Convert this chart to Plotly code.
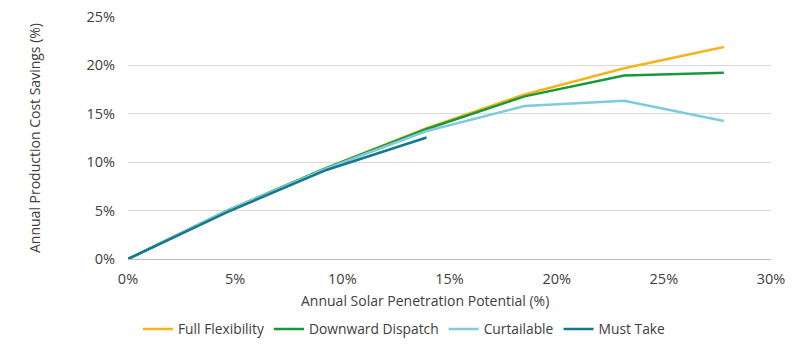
import plotly.graph_objects as go

penetration = [0.0, 4.63, 9.26, 13.9, 18.5, 23.15, 27.8]
full_flex = [0.0, 5.0, 9.4, 13.5, 17.0, 19.7, 21.9]
downward = [0.0, 5.0, 9.4, 13.4, 16.8, 18.95, 19.25]
curtailable = [0.0, 5.0, 9.35, 13.2, 15.8, 16.35, 14.25]
must_take_x = [0.0, 4.63, 9.26, 13.93]
must_take = [0.0, 4.85, 9.2, 12.55]

x_ticks = [0, 0.05, 0.10, 0.15, 0.20, 0.25, 0.30]
y_ticks = [0, 0.05, 0.10, 0.15, 0.20, 0.25]

series = [
    ("Full Flexibility", penetration, full_flex, "#F4B41A"),
    ("Downward Dispatch", penetration, downward, "#17993A"),
    ("Curtailable", penetration, curtailable, "#7FCBDC"),
    ("Must Take", must_take_x, must_take, "#16788F"),
]

fig = go.Figure()
for name, xs, ys, color in series:
    fig.add_trace(go.Scatter(
        x=[v / 100 for v in xs], y=[v / 100 for v in ys], name=name,
        mode="lines", line=dict(color=color, width=2.5)))

fam = "Open Sans, Noto Sans, sans-serif"
txt = "#404040"
fig.update_layout(
    width=809, height=349,
    margin=dict(l=128, r=38, t=17, b=90, autoexpand=False),
    plot_bgcolor="white", paper_bgcolor="white",
    font=dict(family=fam, size=14.5, color=txt),
    showlegend=True,
    legend=dict(orientation="h", xref="container", yref="container",
                x=0.5, xanchor="center", y=1 - 329 / 349, yanchor="middle",
                font=dict(size=13.8, color=txt), itemwidth=30),
    xaxis=dict(range=[0, 0.30], tickvals=x_ticks,
               tickformat=".0%", showgrid=False, zeroline=False, showline=False,
               ticks="", ticklabelstandoff=9, tickfont=dict(size=14.5)),
    yaxis=dict(range=[0, 0.25], tickvals=y_ticks,
               tickformat=".0%", showgrid=True, gridcolor="#D9D9D9", gridwidth=1,
               zeroline=True, zerolinecolor="#BFBFBF", zerolinewidth=1,
               showline=False, ticks="", ticklabelstandoff=12, tickfont=dict(size=14.5),
               title=dict(text="Annual Production Cost Savings (%)", standoff=42,
                          font=dict(size=14))),
    annotations=[dict(text="Annual Solar Penetration Potential (%)",
                      xref="paper", yref="paper", x=0.462, y=(259 - 300) / 242,
                      xanchor="center", yanchor="middle", showarrow=False,
                      font=dict(size=14, color=txt))],
)
fig.write_html("out.html")
